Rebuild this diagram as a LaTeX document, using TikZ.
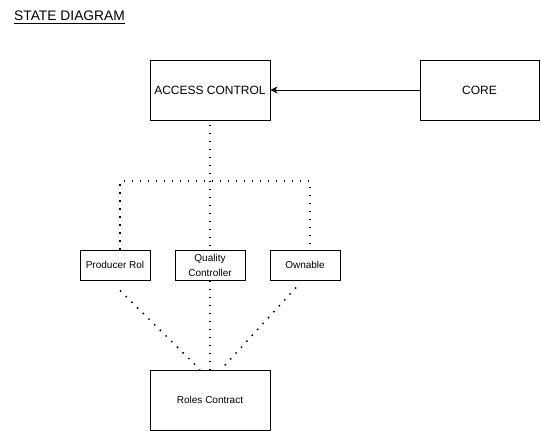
\documentclass[tikz,border=0pt]{standalone}
\usepackage{fontspec}
\setmainfont{Liberation Sans}
\usetikzlibrary{arrows.meta}
\tikzset{
  box/.style={draw=black, line width=1pt, fill=white, inner sep=0pt, align=center, font=\fontsize{12}{14}\selectfont},
  smallbox/.style={box, font=\fontsize{10}{15}\selectfont},
  dotline/.style={line width=1.5pt, dash pattern=on 1.5pt off 6.5pt},
  arr/.style={line width=1pt, -{Stealth[length=7pt,width=7pt,inset=2pt]}}
}
\begin{document}
\begin{tikzpicture}[x=1pt,y=-1pt]
\useasboundingbox (0,0) rectangle (541,431);
\node[anchor=base west, inner sep=0pt, font=\fontsize{13.8}{16}\selectfont] (title) at (14,20) {STATE DIAGRAM};
\draw[line width=0.9pt] ([yshift=-3pt]title.base west) -- ([yshift=-3pt]title.base east);

\node[box, minimum width=120pt, minimum height=60pt] (ac) at (210,90) {ACCESS CONTROL};
\node[box, minimum width=119pt, minimum height=60pt] (core) at (479.5,90) {CORE};
\node[smallbox, minimum width=70pt, minimum height=30pt] (pr) at (115,265) {Producer Rol};
\node[smallbox, minimum width=70pt, minimum height=30pt] (qc) at (210,265) {Quality\\Controller};
\node[smallbox, minimum width=70pt, minimum height=30pt] (ow) at (305,265) {Ownable};
\node[box, minimum width=120pt, minimum height=60pt, font=\fontsize{10}{12}\selectfont] (rc) at (210,400) {Roles Contract};

\draw[arr] (core.west) -- (ac.east);

\coordinate (j) at (210,181);
\draw[dotline] ([yshift=-4pt]ac.south) -- (qc.north);
\draw[dotline] ([xshift=5pt]pr.north) |- (j) -| ([xshift=5pt]ow.north);
\draw[dotline] (qc.south) -- (rc.north);
\draw[dotline] ([xshift=5pt,yshift=-10pt]pr.south) -- ([xshift=-10pt]rc.north);
\draw[dotline] ([xshift=-9pt,yshift=-7pt]ow.south) -- ([xshift=11pt]rc.north);
\end{tikzpicture}
\end{document}
